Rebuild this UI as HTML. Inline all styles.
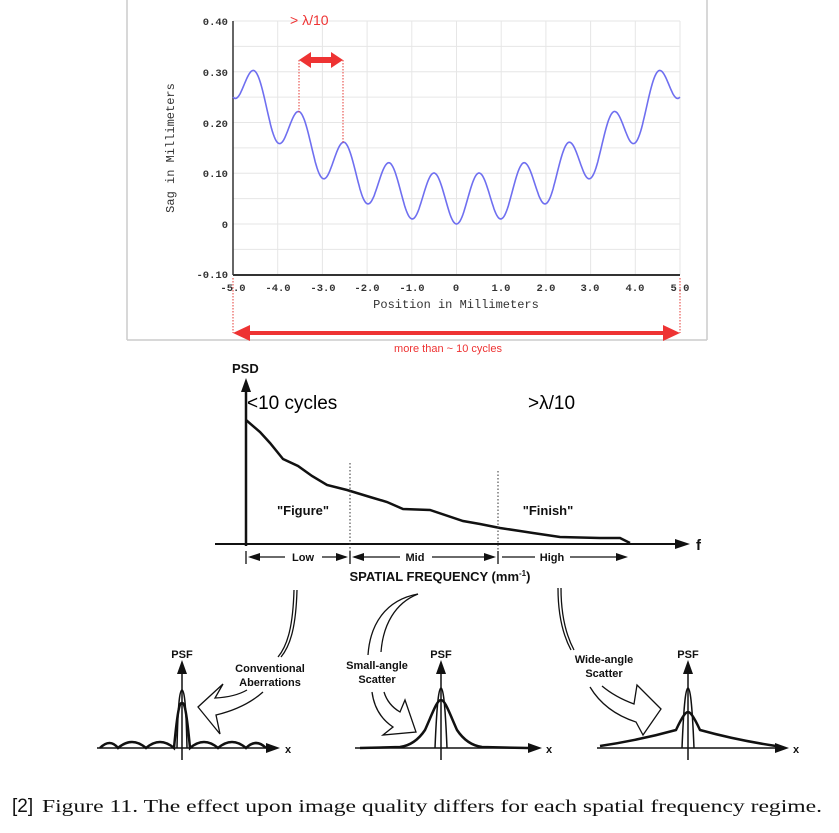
<!DOCTYPE html>
<html><head><meta charset="utf-8"><style>
html,body{margin:0;padding:0;background:#fff;}
svg{display:block;}
.m{font-family:"Liberation Mono",monospace;font-size:10.5px;fill:#333;font-weight:bold;}
.a{font-family:"Liberation Sans",Arial,sans-serif;font-weight:bold;fill:#111;}
</style></head><body>
<svg id="s" width="839" height="833" viewBox="0 0 839 833" xmlns="http://www.w3.org/2000/svg">
<rect width="839" height="833" fill="#fff"/>
<line x1="127" y1="0" x2="127" y2="340" stroke="#ccc" stroke-width="1.5"/>
<line x1="707" y1="0" x2="707" y2="340" stroke="#ccc" stroke-width="1.5"/>
<line x1="127" y1="340" x2="707" y2="340" stroke="#ccc" stroke-width="1.5"/>
<g id="grid" stroke="#e6e6e6" stroke-width="1"></g>
<line x1="233" y1="21" x2="233" y2="275" stroke="#333" stroke-width="1.5"/>
<line x1="233" y1="275" x2="680" y2="275" stroke="#333" stroke-width="2"/>
<g class="m" text-anchor="end">
<text x="228" y="25">0.40</text><text x="228" y="76">0.30</text><text x="228" y="127">0.20</text>
<text x="228" y="177">0.10</text><text x="228" y="228">0</text><text x="228" y="278">-0.10</text>
</g>
<g class="m" text-anchor="middle">
<text x="233" y="291">-5.0</text><text x="278" y="291">-4.0</text><text x="323" y="291">-3.0</text>
<text x="367" y="291">-2.0</text><text x="412" y="291">-1.0</text><text x="456" y="291">0</text>
<text x="501" y="291">1.0</text><text x="546" y="291">2.0</text><text x="590" y="291">3.0</text>
<text x="635" y="291">4.0</text><text x="680" y="291">5.0</text>
</g>
<text class="m" x="456" y="308" text-anchor="middle" style="font-size:12px;font-weight:normal">Position in Millimeters</text>
<text class="m" transform="translate(174,148) rotate(-90)" text-anchor="middle" style="font-size:12px;font-weight:normal">Sag in Millimeters</text>
<path id="curve" fill="none" stroke="#6f6ff0" stroke-width="1.6"/>
<g stroke="#e53935" stroke-width="1" stroke-dasharray="1.5,1.5">
<line x1="299" y1="60" x2="299" y2="113"/><line x1="343" y1="60" x2="343" y2="143"/>
<line x1="233" y1="278" x2="233" y2="333"/><line x1="680" y1="278" x2="680" y2="333"/>
</g>
<g fill="#ee3333">
<polygon points="299,60 311,52 311,57 331,57 331,52 343,60 331,68 331,63 311,63 311,68"/>
<polygon points="233,333 250,325 250,331 663,331 663,325 680,333 663,341 663,335 250,335 250,341"/>
</g>
<text x="290" y="25" fill="#ee3333" font-family="Liberation Sans,sans-serif" font-size="14">&gt; λ/10</text>
<text x="448" y="352" fill="#ee3333" font-family="Liberation Sans,sans-serif" font-size="11" text-anchor="middle">more than ~ 10 cycles</text>

<line x1="246" y1="385" x2="246" y2="546" stroke="#111" stroke-width="2.5"/>
<polygon points="246,378 241,392 251,392" fill="#111"/>
<text class="a" x="232" y="373" font-size="13">PSD</text>
<line x1="215" y1="544" x2="680" y2="544" stroke="#111" stroke-width="2"/>
<polygon points="690,544 675,539 675,549" fill="#111"/>
<text class="a" x="696" y="550" font-size="15">f</text>
<text x="247" y="409" font-family="Liberation Sans,sans-serif" font-size="19" fill="#000">&lt;10 cycles</text>
<text x="528" y="409" font-family="Liberation Sans,sans-serif" font-size="19" fill="#000">&gt;λ/10</text>
<polyline fill="none" stroke="#111" stroke-width="2.5" points="246,420 260,432 270,443 283,459 298,466 312,476 327,485 347,490 370,497 387,502 403,509 430,510 463,521 480,524 500,528 520,531 533,533 560,537 600,538 620,538 630,543"/>
<g stroke="#333" stroke-width="1" stroke-dasharray="1.5,2">
<line x1="350" y1="463" x2="350" y2="560"/><line x1="498" y1="471" x2="498" y2="560"/>
</g>
<text class="a" x="303" y="515" font-size="13" text-anchor="middle">"Figure"</text>
<text class="a" x="548" y="515" font-size="13" text-anchor="middle">"Finish"</text>
<g stroke="#111" stroke-width="1.3">
<line x1="246" y1="551" x2="246" y2="564"/><line x1="350" y1="551" x2="350" y2="564"/><line x1="498" y1="551" x2="498" y2="564"/>
<line x1="250" y1="557" x2="285" y2="557"/><line x1="322" y1="557" x2="346" y2="557"/>
<line x1="354" y1="557" x2="400" y2="557"/><line x1="432" y1="557" x2="494" y2="557"/>
<line x1="502" y1="557" x2="535" y2="557"/><line x1="570" y1="557" x2="620" y2="557"/>
</g>
<g fill="#111">
<polygon points="248,557 260,553 260,561"/><polygon points="348,557 336,553 336,561"/>
<polygon points="352,557 364,553 364,561"/><polygon points="496,557 484,553 484,561"/>
<polygon points="628,557 616,553 616,561"/>
</g>
<g class="a" font-size="11" text-anchor="middle">
<text x="303" y="561">Low</text><text x="415" y="561">Mid</text><text x="552" y="561">High</text>
</g>
<text class="a" x="440" y="581" font-size="13" text-anchor="middle">SPATIAL FREQUENCY (mm<tspan font-size="8" dy="-5">-1</tspan><tspan dy="5">)</tspan></text>

<!-- curved arrows -->
<g fill="none" stroke="#111" stroke-width="1.3" stroke-linejoin="miter">
<path d="M297,590 C296,625 291,645 281,657"/><path d="M294,590 C293,625 288,645 278,657"/>
<path d="M247,690 Q235,697 215,698 L223,684 L198,707 L220,734 L216,715 Q245,708 263,692"/>
<path d="M418,594 C385,600 370,625 368,655"/><path d="M418,594 C395,603 383,625 381,652"/>
<path d="M372,692 Q375,715 393,727 L383,735 L416,732 L405,700 L400,712 Q388,705 384,692"/>
<path d="M558,588 C558,615 563,635 571,650"/><path d="M561,588 C561,615 566,635 574,650"/>
<path d="M602,686 Q615,697 634,704 L637,685 L661,709 L643,735 L636,722 Q605,712 590,687"/>
</g>
<g class="a" font-size="11" text-anchor="middle">
<text x="182" y="658">PSF</text><text x="441" y="658">PSF</text><text x="688" y="658">PSF</text>
<text x="270" y="672">Conventional</text><text x="270" y="686">Aberrations</text>
<text x="377" y="669">Small-angle</text><text x="377" y="683">Scatter</text>
<text x="604" y="663">Wide-angle</text><text x="604" y="677">Scatter</text>
<text x="288" y="753">x</text><text x="549" y="753">x</text><text x="796" y="753">x</text>
</g>
<g stroke="#111" stroke-width="1.5" fill="none">
<line x1="97" y1="748" x2="268" y2="748"/><line x1="182" y1="668" x2="182" y2="760"/>
<line x1="355" y1="748" x2="530" y2="748"/><line x1="441" y1="668" x2="441" y2="760"/>
<line x1="597" y1="748" x2="776" y2="748"/><line x1="688" y1="668" x2="688" y2="760"/>
<path d="M177,748 C178,700 180,690 182,690 C184,690 186,700 187,748"/>
<path d="M435,748 C437,700 439,688 441,688 C443,688 445,700 447,748"/>
<path d="M682,748 C684,700 686,688 688,688 C690,688 692,700 694,748"/>
</g>
<g stroke="#111" stroke-width="2.5" fill="none">
<path d="M100,748 Q110,738 118,748 Q132,736 146,748 Q160,736 174,748 C178,705 180,703 182,703 C184,703 186,705 190,748 Q204,736 218,748 Q232,736 246,748 Q256,738 266,748"/>
<path d="M360,748 L400,747 Q415,745 425,730 C433,712 437,700 441,700 C445,700 449,712 457,730 Q467,745 482,747 L528,748"/>
<path d="M600,746 Q640,740 676,730 C683,715 686,712 688,712 C690,712 693,715 700,730 Q736,740 776,746"/>
</g>
<g fill="#111">
<polygon points="182,660 177,674 187,674"/><polygon points="441,660 436,674 446,674"/><polygon points="688,660 683,674 693,674"/>
<polygon points="280,748 266,743 266,753"/><polygon points="542,748 528,743 528,753"/><polygon points="789,748 775,743 775,753"/>
</g>

<text x="12" y="812" font-family="Liberation Sans,sans-serif" font-size="19" fill="#111">[2]</text>
<text x="42" y="812" font-family="Liberation Serif,serif" font-size="18" fill="#111" textLength="780" lengthAdjust="spacingAndGlyphs">Figure 11. The effect upon image quality differs for each spatial frequency regime.</text>
</svg>
<script>
(function(){
var g=document.getElementById('grid'),ns='http://www.w3.org/2000/svg';
function X(v){return 233+(v+5)*44.7;}function Y(v){return 224-v*507.5;}
for(var i=-4;i<=5;i++){var l=document.createElementNS(ns,'line');l.setAttribute('x1',X(i));l.setAttribute('x2',X(i));l.setAttribute('y1',21);l.setAttribute('y2',275);g.appendChild(l);}
for(var k=-1;k<=8;k++){var v=k*0.05;var l=document.createElementNS(ns,'line');l.setAttribute('x1',233);l.setAttribute('x2',680);l.setAttribute('y1',Y(v));l.setAttribute('y2',Y(v));g.appendChild(l);}
var d='';for(var j=0;j<=500;j++){var x=-5+j*0.02;var y=0.01*x*x+0.049-0.049*Math.cos(2*Math.PI*x);d+=(j?'L':'M')+X(x).toFixed(1)+','+Y(y).toFixed(1);}
document.getElementById('curve').setAttribute('d',d);
})();
</script>
</body></html>
